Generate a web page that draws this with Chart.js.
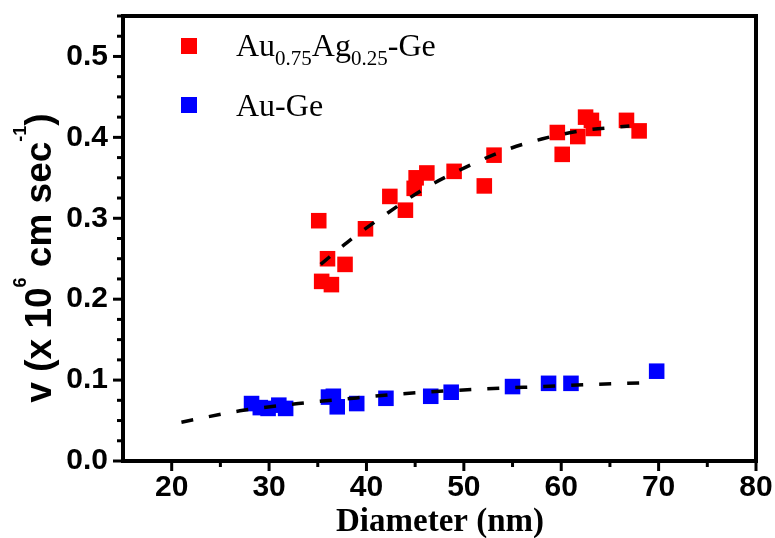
<!DOCTYPE html>
<html>
<head>
<meta charset="utf-8">
<script src="https://cdn.jsdelivr.net/npm/chart.js@4/dist/chart.umd.min.js"></script>
<style>
  html, body { margin: 0; padding: 0; background: #fff; }
  #wrap { width: 775px; height: 538px; }
</style>
</head>
<body>
<div id="wrap"><canvas id="chart" width="775" height="538"></canvas></div>
<script>
// axis ticks
const xTicks = [20, 30, 40, 50, 60, 70, 80];
const xMinorTicks = [25, 35, 45, 55, 65, 75];
const yTicks = [0.0, 0.1, 0.2, 0.3, 0.4, 0.5];
const yMinorTicks = [0.025, 0.05, 0.075, 0.125, 0.15, 0.175, 0.225, 0.25, 0.275,
                     0.325, 0.35, 0.375, 0.425, 0.45, 0.475, 0.525, 0.55];

// Au0.75Ag0.25-Ge measurements
const agDiameter = [35.1, 36.0, 35.4, 36.4, 37.8, 39.9, 42.4, 44.0, 44.9, 45.1, 46.2,
                    49.0, 52.1, 53.1, 59.6, 60.1, 61.7, 62.5, 63.1, 63.3, 66.7, 68.0];
const agVelocity = [0.297, 0.250, 0.222, 0.218, 0.243, 0.287, 0.327, 0.310, 0.337, 0.350, 0.356,
                    0.358, 0.340, 0.378, 0.406, 0.379, 0.401, 0.425, 0.421, 0.411, 0.421, 0.408];

// Au-Ge measurements
const auDiameter = [28.2, 29.1, 29.9, 31.0, 31.7, 36.1, 36.6, 37.0, 39.0, 42.0, 46.6, 48.7, 55.0, 58.7, 61.0, 69.8];
const auVelocity = [0.071, 0.066, 0.065, 0.069, 0.065, 0.079, 0.080, 0.067, 0.071, 0.0775, 0.080, 0.085, 0.092, 0.096, 0.096, 0.111];

// dashed fit curves
const agFitDiameter = [35.3, 38, 42, 46, 50, 54, 58, 62, 67];
const agFitVelocity = [0.243, 0.270, 0.305, 0.337, 0.362, 0.383, 0.398, 0.408, 0.414];
const auFitDiameter = [21, 27, 33, 39, 43.5, 52, 58, 63, 69.5];
const auFitVelocity = [0.048, 0.062, 0.071, 0.078, 0.083, 0.089, 0.092, 0.0945, 0.097];

const RED = '#ff0000';
const BLUE = '#0000ff';

function toPoints(xs, ys) {
    return xs.map((x, i) => ({ x: x, y: ys[i] }));
}

function fitDataset(xs, ys) {
    return {
        data: toPoints(xs, ys),
        showLine: true,
        borderColor: '#000',
        borderWidth: 3.5,
        borderDash: [12, 16],
        pointRadius: 0,
        cubicInterpolationMode: 'monotone',
        fill: false
    };
}

function markerDataset(xs, ys, color) {
    return {
        data: toPoints(xs, ys),
        showLine: false,
        pointStyle: 'rect',
        pointRadius: 11,
        backgroundColor: color,
        borderColor: color,
        borderWidth: 0
    };
}

// frame, minor/major ticks, titles and legend
const decorPlugin = {
    id: 'decor',
    afterDraw(chart) {
        const ctx = chart.ctx;
        const area = chart.chartArea;
        const xs = chart.scales.x;
        const ys = chart.scales.y;
        ctx.save();
        ctx.strokeStyle = '#000';
        ctx.lineWidth = 3;
        ctx.lineCap = 'butt';
        xTicks.forEach(v => {
            const px = xs.getPixelForValue(v);
            ctx.beginPath(); ctx.moveTo(px, area.bottom); ctx.lineTo(px, area.bottom + 10); ctx.stroke();
        });
        xMinorTicks.forEach(v => {
            const px = xs.getPixelForValue(v);
            ctx.beginPath(); ctx.moveTo(px, area.bottom); ctx.lineTo(px, area.bottom + 6); ctx.stroke();
        });
        yTicks.forEach(v => {
            const py = ys.getPixelForValue(v);
            ctx.beginPath(); ctx.moveTo(area.left, py); ctx.lineTo(area.left - 10, py); ctx.stroke();
        });
        yMinorTicks.forEach(v => {
            const py = ys.getPixelForValue(v);
            ctx.beginPath(); ctx.moveTo(area.left, py); ctx.lineTo(area.left - 6, py); ctx.stroke();
        });
        ctx.lineWidth = 4;
        ctx.strokeRect(area.left, area.top, area.right - area.left, area.bottom - area.top);

        // x title
        ctx.fillStyle = '#000';
        ctx.font = 'bold 33px "Liberation Serif"';
        ctx.textAlign = 'center';
        ctx.textBaseline = 'alphabetic';
        ctx.fillText('Diameter (nm)', (area.left + area.right) / 2 + 0.5, 531);

        // y title, rotated, with superscripts
        ctx.save();
        ctx.translate(51, 258);
        ctx.rotate(-Math.PI / 2);
        const parts = [
            { t: 'v (x 10', s: 37, dy: 0 },
            { t: '6', s: 18, dy: -25 },
            { t: ' cm sec', s: 37, dy: 0 },
            { t: '-1', s: 18, dy: -25 },
            { t: ')', s: 37, dy: 0 }
        ];
        let total = 0;
        parts.forEach(p => {
            ctx.font = 'bold ' + p.s + 'px "Liberation Sans"';
            p.w = ctx.measureText(p.t).width;
            total += p.w;
        });
        let cx = -total / 2;
        ctx.textAlign = 'left';
        parts.forEach(p => {
            ctx.font = 'bold ' + p.s + 'px "Liberation Sans"';
            ctx.fillText(p.t, cx, p.dy);
            cx += p.w;
        });
        ctx.restore();

        // legend
        ctx.fillStyle = RED;
        ctx.fillRect(181, 38, 16, 16);
        ctx.fillStyle = BLUE;
        ctx.fillRect(181, 97, 16, 16);
        ctx.fillStyle = '#000';
        ctx.textAlign = 'left';
        const legendParts = [
            { t: 'Au', s: 32, dy: 0 },
            { t: '0.75', s: 21, dy: 9 },
            { t: 'Ag', s: 32, dy: 0 },
            { t: '0.25', s: 21, dy: 9 },
            { t: '-Ge', s: 32, dy: 0 }
        ];
        let lx = 236;
        legendParts.forEach(p => {
            ctx.font = p.s + 'px "Liberation Serif"';
            ctx.fillText(p.t, lx, 56 + p.dy);
            lx += ctx.measureText(p.t).width;
        });
        ctx.font = '32px "Liberation Serif"';
        ctx.fillText('Au-Ge', 236, 116);
        ctx.restore();
    }
};

new Chart(document.getElementById('chart'), {
    type: 'scatter',
    data: {
        datasets: [
            fitDataset(agFitDiameter, agFitVelocity),
            fitDataset(auFitDiameter, auFitVelocity),
            markerDataset(agDiameter, agVelocity, RED),
            markerDataset(auDiameter, auVelocity, BLUE)
        ]
    },
    options: {
        responsive: false,
        animation: false,
        events: [],
        layout: { padding: { top: 16, right: 19, left: 0, bottom: 0 } },
        plugins: {
            legend: { display: false },
            tooltip: { enabled: false }
        },
        scales: {
            x: {
                type: 'linear',
                min: 15,
                max: 80,
                grid: { display: false, drawTicks: false },
                border: { display: false },
                afterBuildTicks: s => { s.ticks = xTicks.map(v => ({ value: v })); },
                afterFit: s => { s.height = 77; s.paddingLeft = 0; s.paddingRight = 0; },
                ticks: {
                    padding: 9,
                    color: '#000',
                    maxRotation: 0,
                    font: { family: 'Liberation Sans', weight: 'bold', size: 30 },
                    callback: v => String(v)
                }
            },
            y: {
                type: 'linear',
                min: 0,
                max: 0.55,
                grid: { display: false, drawTicks: false },
                border: { display: false },
                afterBuildTicks: s => { s.ticks = yTicks.map(v => ({ value: v })); },
                afterFit: s => { s.width = 123; s.paddingTop = 0; s.paddingBottom = 0; },
                ticks: {
                    padding: 15,
                    color: '#000',
                    font: { family: 'Liberation Sans', weight: 'bold', size: 30 },
                    callback: v => v.toFixed(1)
                }
            }
        }
    },
    plugins: [decorPlugin]
});
</script>
</body>
</html>
